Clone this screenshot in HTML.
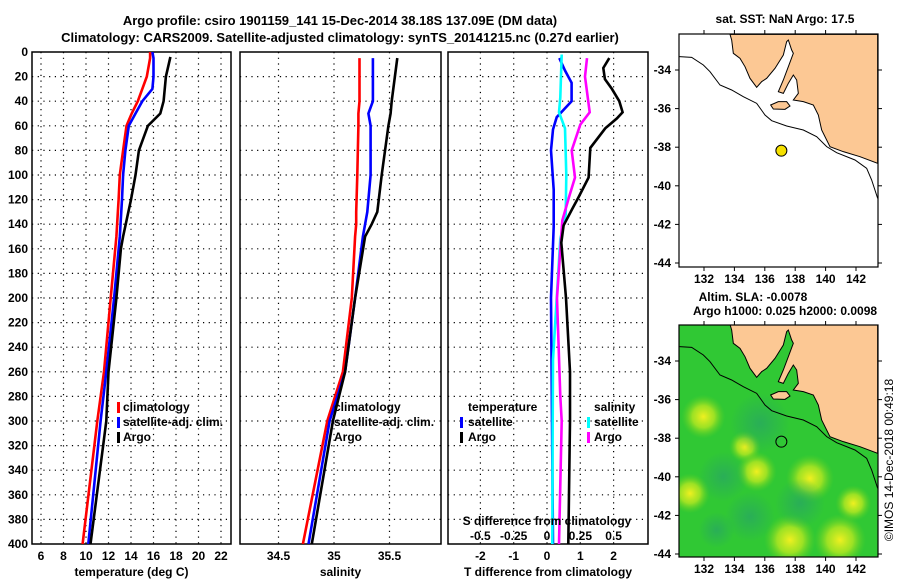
<!DOCTYPE html>
<html><head><meta charset="utf-8"><style>
body{margin:0;background:#fff}
svg{display:block;font-family:"Liberation Sans",Arial,sans-serif;font-weight:bold}
</style></head><body>
<svg id="fig" width="900" height="580" viewBox="0 0 900 580" xmlns="http://www.w3.org/2000/svg">
<defs>
<clipPath id="m1"><rect x="679" y="34" width="199" height="233"/></clipPath>
<clipPath id="m2"><rect x="679" y="325" width="199" height="232"/></clipPath>
<clipPath id="p1"><rect x="32" y="52" width="199" height="492"/></clipPath>
<clipPath id="p2"><rect x="240" y="52" width="201" height="492"/></clipPath>
<clipPath id="p3"><rect x="448" y="52" width="200" height="492"/></clipPath>
<radialGradient id="yb"><stop offset="0" stop-color="#f0f020"/><stop offset="0.5" stop-color="#b8e820" stop-opacity="0.8"/><stop offset="1" stop-color="#60d020" stop-opacity="0"/></radialGradient>
<radialGradient id="db"><stop offset="0" stop-color="#28a860" stop-opacity="0.8"/><stop offset="1" stop-color="#28a860" stop-opacity="0"/></radialGradient>
</defs>
<text x="340" y="25" font-size="13" text-anchor="middle">Argo profile: csiro 1901159_141 15-Dec-2014 38.18S 137.09E (DM data)</text>
<text x="340" y="42" font-size="13" text-anchor="middle">Climatology: CARS2009. Satellite-adjusted climatology: synTS_20141215.nc (0.27d earlier)</text>
<g id="g"></g>
</svg>
<script>
// depth levels (dbar)
const tDepth=[0,5,20,30,40,50,60,70,80,100,120,150,200,260,300,400];
const tClim=[15.7,15.7,15.4,15.0,14.6,14.06,13.6,13.45,13.3,13.0,12.9,12.7,12.2,11.6,11.0,9.7];
const tSat=[15.9,16.0,16.0,15.9,15.0,14.4,13.8,13.65,13.5,13.3,13.2,13.0,12.5,11.8,11.3,10.2];
const tArgoDepth=[4,20,40,50,60,70,80,100,120,150,160,200,260,300,400];
const tArgo=[17.5,17.1,16.9,16.6,15.5,15.1,14.7,14.4,14.0,13.3,13.1,12.7,12.0,11.8,10.4];
const sDepth=[5,40,50,60,100,130,140,150,200,260,300,400];
const sClim=[35.23,35.23,35.22,35.22,35.21,35.2,35.2,35.19,35.16,35.08,34.94,34.72];
const sSat=[35.35,35.35,35.31,35.33,35.33,35.3,35.28,35.26,35.19,35.1,34.96,34.77];
const sArgo=[35.57,35.52,35.51,35.49,35.43,35.39,35.34,35.28,35.19,35.1,34.99,34.80];
const dTSatDepth=[5,15,25,40,53,63,80,112,142,200,300,400];
const dTSat=[0.37,0.54,0.74,0.74,0.29,0.18,0.12,0.2,0.2,0.12,0.15,0.18];
const dSSatDepth=[2,37,49,62,100,132,152,250,300,400];
const dSSat=[0.11,0.1,0.09,0.135,0.145,0.14,0.1,0.045,0.043,0.04];
const dSArgoDepth=[5,20,49,59,80,102,118,137,200,280,300,400];
const dSArgo=[0.3,0.285,0.32,0.25,0.185,0.21,0.165,0.115,0.075,0.1,0.11,0.09];
const dTArgoDepth=[5,13,22,30,40,49,54,62,78,102,118,128,141,155,200,260,300,400];
const dTArgo=[1.87,1.69,1.74,1.95,2.17,2.27,2.1,1.75,1.3,1.25,0.95,0.75,0.5,0.43,0.57,0.69,0.69,0.64];
const depthTicks=[0,20,40,60,80,100,120,140,160,180,200,220,240,260,280,300,320,340,360,380,400];
const tTicks=[6,8,10,12,14,16,18,20,22];
const sTicks=[34.5,35,35.5];
const dTTicks=[-2,-1,0,1,2];
const dSTicks=[-0.5,-0.25,0,0.25,0.5];
const dSTickLabels=["-0.5","-0.25","0","0.25","0.5"];
const lonTicks=[132,134,136,138,140,142];
const latTicks=[-34,-36,-38,-40,-42,-44];
const argoLon=137.09, argoLat=-38.18;

const NS='http://www.w3.org/2000/svg';
const G=document.getElementById('g');
function mk(tag,at,parent){const e=document.createElementNS(NS,tag);for(const k in at)e.setAttribute(k,at[k]);(parent||G).appendChild(e);return e;}
const yD=d=>52+d*1.23;
const xT=t=>41+(t-6)*11.25;
const xS=s=>334+(s-35)*111;
const xdT=v=>547+v*33.3;
const xdS=v=>547+v*133.3;
const xLon=l=>704+(l-132)*15.2;
const yLat=l=>70+(-34-l)*19.3;

function panel(name,x0,w,xticks,xf,labels,xlabel,clip){
  const g=mk('g',{});
  
  
  depthTicks.forEach(d=>{
    if(d>0&&d<400){const l=mk('line',{x1:x0,x2:x0+w,y1:yD(d),y2:yD(d),stroke:'#000','stroke-width':1.2,'stroke-dasharray':'1.2 4.5'},g);
    }
  });
  xticks.forEach((t,i)=>{
    const x=xf(t);
    const l=mk('line',{x1:x,x2:x,y1:52,y2:544,stroke:'#000','stroke-width':1.2,'stroke-dasharray':'1.2 4.5'},g);
    
    if(labels){const tx=mk('text',{x:x,y:560,'font-size':12,'text-anchor':'middle'},g);tx.textContent=labels[i];
    }
  });
  const r=mk('rect',{x:x0,y:52,width:w,height:492,fill:'none',stroke:'#000','stroke-width':1.5},g);
  
  const xl=mk('text',{x:x0+w/2,y:576,'font-size':12,'text-anchor':'middle'},g);xl.textContent=xlabel;
  
  return g;
}
function line(g,depths,vals,xf,color,name,clip){
  const pts=depths.map((d,i)=>xf(vals[i]).toFixed(1)+','+yD(d).toFixed(1)).join(' ');
  const p=mk('polyline',{points:pts,fill:'none',stroke:color,'stroke-width':2.6,'clip-path':'url(#'+clip+')'},g);
  
}
function txt(g,x,y,s,name,size,anchor){const t=mk('text',{x:x,y:y,'font-size':size||12,'text-anchor':anchor||'start'},g);t.textContent=s;
  return t;}
function bar(g,x,y,c){const r=mk('rect',{x:x,y:y-9,width:3,height:11,fill:c},g);}

depthTicks.forEach(d=>{txt(G,28,yD(d)+4,String(d),'y-tick-label',12,'end');});

const g1=panel('temperature-panel',32,199,tTicks,xT,tTicks.map(String),'temperature (deg C)','p1');
line(g1,tDepth,tClim,xT,'#f00','climatology-temp-line','p1');
line(g1,tDepth,tSat,xT,'#00f','satellite-temp-line','p1');
line(g1,tArgoDepth,tArgo,xT,'#000','argo-temp-line','p1');
bar(g1,117,411,'#f00');txt(g1,123,411,'climatology','legend-entry',12);
bar(g1,117,426,'#00f');txt(g1,123,426,'satellite-adj. clim.','legend-entry',12);
bar(g1,117,441,'#000');txt(g1,123,441,'Argo','legend-entry',12);

const g2=panel('salinity-panel',240,201,sTicks,xS,['34.5','35','35.5'],'salinity','p2');
line(g2,sDepth,sClim,xS,'#f00','climatology-sal-line','p2');
line(g2,sDepth,sSat,xS,'#00f','satellite-sal-line','p2');
line(g2,sDepth,sArgo,xS,'#000','argo-sal-line','p2');
txt(g2,334,411,'climatology','legend-entry',12);
txt(g2,334,426,'satellite-adj. clim.','legend-entry',12);
txt(g2,334,441,'Argo','legend-entry',12);

const g3=panel('difference-panel',448,200,dTTicks,xdT,dTTicks.map(String),'T difference from climatology','p3');
line(g3,dTSatDepth,dTSat,xdT,'#00f','satellite-temp-diff-line','p3');
line(g3,dSSatDepth,dSSat,xdS,'#0ff','satellite-sal-diff-line','p3');
line(g3,dSArgoDepth,dSArgo,xdS,'#f0f','argo-sal-diff-line','p3');
line(g3,dTArgoDepth,dTArgo,xdT,'#000','argo-temp-diff-line','p3');
txt(g3,468,411,'temperature','legend-title',12);
bar(g3,460,426,'#00f');txt(g3,468,426,'satellite','legend-entry',12);
bar(g3,460,441,'#000');txt(g3,468,441,'Argo','legend-entry',12);
txt(g3,594,411,'salinity','legend-title',12);
bar(g3,587,426,'#0ff');txt(g3,594,426,'satellite','legend-entry',12);
bar(g3,587,441,'#f0f');txt(g3,594,441,'Argo','legend-entry',12);
txt(g3,547,525,'S difference from climatology','s-axis-title',12,'middle');
dSTicks.forEach((v,i)=>txt(g3,xdS(v),540,dSTickLabels[i],'s-tick-label',12,'middle'));

const land="240,103 245,120 250,160 270,175 285,200 300,235 320,262 335,245 350,235 375,205 400,165 410,125 415,120 425,150 430,160 415,200 400,240 385,275 400,280 415,250 430,225 440,240 445,280 430,300 460,305 490,315 505,345 515,390 540,440 580,455 630,470 683,490 683,103";
const island="362,315 385,305 410,305 420,318 405,328 370,327";
const shelf="88,170 125,172 160,195 180,215 210,255 245,270 280,290 320,310 345,345 365,362 410,378 460,390 500,410 530,440 560,458 615,480 650,505 665,540 683,595";
function map(name,top,ty,clip,green){
  const g=mk('g',{});
  const bg=mk('rect',{x:679,y:top,width:199,height:(clip=='m1'?233:232),fill:green?'#30c834':'#fff'},g);
  
  const c=mk('g',{'clip-path':'url(#'+clip+')'},g);
  if(green){
    [[160,380,22],[285,470,16],[320,545,20],[480,565,24],[120,610,20],[420,750,26],[570,750,26],[610,640,18]].forEach(b=>{
      const e=mk('circle',{cx:650+b[0]/3,cy:ty+b[1]/3,r:b[2],fill:'url(#yb)'},c);});
    [[330,400,30],[450,640,25],[220,560,25],[300,680,25],[200,720,18]].forEach(b=>{
      const e=mk('circle',{cx:650+b[0]/3,cy:ty+b[1]/3,r:b[2],fill:'url(#db)'},c);});
  }
  const s=mk('g',{transform:'translate(650,'+ty+') scale(0.33333)'},c);
  const l=mk('polygon',{points:land,fill:'#fcc894',stroke:'#000','stroke-width':3},s);
  const k=mk('polygon',{points:island,fill:'#fcc894',stroke:'#000','stroke-width':3},s);
  const sh=mk('polyline',{points:shelf,fill:'none',stroke:'#000','stroke-width':3},s);
  const off=top-34;
  const dot=mk('circle',{cx:xLon(argoLon),cy:yLat(argoLat)+off,r:5.5,fill:green?'none':'#f5e000',stroke:'#000','stroke-width':1},g);
  
  const fr=mk('rect',{x:679,y:top,width:199,height:(clip=='m1'?233:232),fill:'none',stroke:'#000','stroke-width':1.2},g);
  
  const bot=top+(clip=='m1'?233:232);
  lonTicks.forEach(v=>{mk('line',{x1:xLon(v),x2:xLon(v),y1:top,y2:top-4,stroke:'#000'},g);mk('line',{x1:xLon(v),x2:xLon(v),y1:bot,y2:bot+4,stroke:'#000'},g);
    txt(g,xLon(v),bot+16,String(v),'lon-tick-label',12,'middle');});
  latTicks.forEach(v=>{const y=yLat(v)+off;mk('line',{x1:679,x2:675,y1:y,y2:y,stroke:'#000'},g);mk('line',{x1:878,x2:882,y1:y,y2:y,stroke:'#000'},g);
    txt(g,671,y+4,String(v),'lat-tick-label',12,'end');});
}
map('sst-map',34,0,'m1',false);
map('sla-map',325,290,'m2',true);
txt(G,785,23,'sat. SST: NaN Argo: 17.5','sst-map-title',12,'middle');
txt(G,753,301,'Altim. SLA: -0.0078','sla-map-title',12,'middle');
txt(G,785,315,'Argo h1000: 0.025 h2000: 0.0098','sla-map-subtitle',12,'middle');
const cp=txt(G,0,0,'©IMOS 14-Dec-2018 00:49:18','copyright-label',12,'middle');
cp.setAttribute('font-weight','normal');
cp.setAttribute('transform','translate(893,460) rotate(-90)');
</script>
</body></html>
